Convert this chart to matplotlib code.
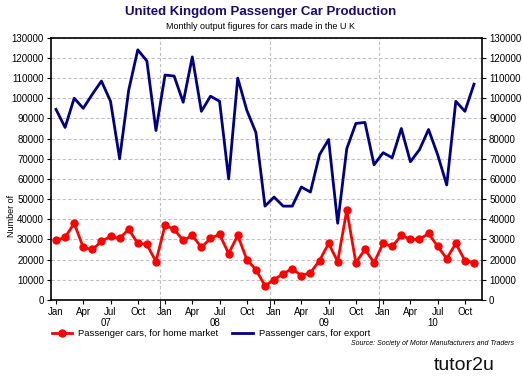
import matplotlib.pyplot as plt
import numpy as np

plt.rcParams['font.family'] = ['Liberation Sans', 'DejaVu Sans']

# valeurs mensuelles jan 2007 -> nov 2010
export = [94500, 85500, 100000, 95000, 102000, 108500, 98500, 70000, 104000, 124000, 118500, 84000,
          111500, 111000, 98000, 120500, 93500, 101000, 98500, 60000, 110000, 94000, 83000, 46500,
          51000, 46500, 46500, 56000, 53500, 72000, 79500, 38000, 75000, 87500, 88000, 67000,
          73000, 70500, 85000, 68500, 74500, 84500, 72000, 57000, 98500, 93500, 107000]
home = [29500, 31000, 38000, 26000, 25000, 29000, 31500, 30500, 35000, 28000, 27500, 19000,
        37000, 35000, 29500, 32000, 26000, 30500, 32500, 23000, 32000, 20000, 15000, 7000,
        10000, 13000, 15500, 12000, 13500, 19500, 28000, 19000, 44500, 18500, 25000, 18500,
        28000, 26500, 32000, 30000, 30000, 33000, 26500, 20500, 28000, 19500, 18500]
mois = ["Jan", "Apr", "Jul", "Oct"]
annees = ["07", "08", "09", "10"]

x = np.arange(len(export))

fig = plt.figure(figsize=(5.22, 3.85), dpi=100)
ax = fig.add_axes([0.0977, 0.221, 0.826, 0.681])

ax.plot(x, export, color="#000080", lw=2.0, label="Passenger cars, for export", zorder=3)
ax.plot(x, home, color="#ff0000", lw=2.0, marker="o", ms=5, label="Passenger cars, for home market", zorder=3)

ax.set_xlim(-0.55, 46.9)
ax.set_ylim(0, 130000)
ax.set_yticks(range(0, 130001, 10000))
ax.tick_params(axis="y", labelsize=7, length=3, right=True, labelright=True, pad=2)

# mois en ticks majeurs, séparations d'années en ticks mineurs
ticks = [i for i in range(len(x)) if i % 3 == 0]
ax.set_xticks(ticks)
ax.set_xticklabels([mois[(i // 3) % 4] for i in ticks], fontsize=7)
ax.set_xticks([11.5, 23.5, 35.5], minor=True)
ax.tick_params(axis="x", which="major", length=3, pad=2)
ax.tick_params(axis="x", which="minor", length=6)

ax.grid(axis="y", color="#c0c0c0", ls=(0, (3, 2)), lw=0.8)
for s in [11.5, 23.5, 35.5]:
    ax.axvline(s, color="#c0c0c0", ls=(0, (3, 2)), lw=0.8, zorder=1)
for sp in ax.spines.values():
    sp.set_linewidth(1.2)

for k, a in enumerate(annees):
    ax.text(5.5 + 12 * k, -0.07, a, transform=ax.get_xaxis_transform(), ha="center", va="top", fontsize=7)

fig.text(0.022, 0.44, "Number of", rotation=90, ha="center", va="center", fontsize=6.5)

fig.text(0.5, 0.968, "United Kingdom Passenger Car Production", ha="center", va="center",
         fontsize=9.5, fontweight="bold", color="#1a0a6e")
fig.text(0.5, 0.93, "Monthly output figures for cars made in the U K", ha="center", va="center", fontsize=6.5)

h, l = ax.get_legend_handles_labels()
fig.legend(h[::-1], l[::-1], loc="center", bbox_to_anchor=(0.404, 0.133), ncol=2, frameon=False,
           fontsize=6.8, handlelength=2.2, columnspacing=1.5, handletextpad=0.6, borderpad=0.1)
fig.text(0.985, 0.108, "Source: Society of Motor Manufacturers and Traders", ha="right", va="center",
         fontsize=5, style="italic")
fig.text(0.948, 0.05, "tutor2u", ha="right", va="center", fontsize=14, color="#111111")

fig.savefig("out.png", dpi=100)
